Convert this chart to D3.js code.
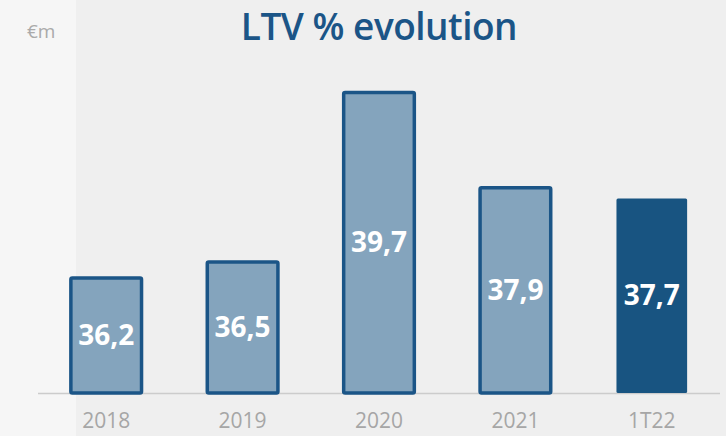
<!DOCTYPE html>
<html>
<head>
<meta charset="utf-8">
<script src="https://cdn.jsdelivr.net/npm/d3@7"></script>
<style>
  body { margin: 0; background: #efefef; }
  svg { display: block; }
</style>
</head>
<body>
<div id="chart_container"></div>
<script>
// chart data
const categories = ["2018", "2019", "2020", "2021", "1T22"];
const ltvValues = [36.2, 36.5, 39.7, 37.9, 37.7];
const valueLabels = ["36,2", "36,5", "39,7", "37,9", "37,7"];
const highlighted = ["1T22"];

const WIDTH = 726;
const HEIGHT = 436;
const BASELINE = 393;

const svg = d3
  .select("#chart_container")
  .append("svg")
  .attr("width", WIDTH)
  .attr("height", HEIGHT);

// background: lighter strip on the left
svg.append("rect").attr("width", WIDTH).attr("height", HEIGHT).attr("fill", "#efefef");
svg.append("rect").attr("width", 76).attr("height", HEIGHT).attr("fill", "#f6f6f6");

const x = d3
  .scaleBand()
  .domain(categories)
  .range([38, 720])
  .paddingInner(0.46)
  .paddingOuter(0.23);

const y = d3.scaleLinear().domain([34, 40]).range([BASELINE, 75]);

// title
svg
  .append("text")
  .attr("x", 379)
  .attr("y", 40)
  .attr("text-anchor", "middle")
  .style("font-family", "'Open Sans', sans-serif")
  .style("font-size", "37px")
  .style("font-weight", 600)
  .style("letter-spacing", "-0.5px")
  .style("fill", "#1b5587")
  .text("LTV % evolution");

svg
  .append("text")
  .attr("x", 27)
  .attr("y", 38)
  .style("font-family", "'Open Sans', sans-serif")
  .style("font-size", "19px")
  .style("fill", "#aaaaaa")
  .text("€m");

// baseline
svg
  .append("line")
  .attr("x1", 38)
  .attr("x2", 720)
  .attr("y1", BASELINE + 0.5)
  .attr("y2", BASELINE + 0.5)
  .attr("stroke", "#cccccc")
  .attr("stroke-width", 1.5);

const data = categories.map((c, i) => ({ cat: c, value: ltvValues[i], label: valueLabels[i] }));

// bars
svg
  .selectAll(".bar")
  .data(data)
  .enter()
  .append("rect")
  .attr("class", "bar")
  .attr("x", (d) => x(d.cat) + 1.5)
  .attr("y", (d) => y(d.value) + 1.5)
  .attr("width", x.bandwidth() - 3)
  .attr("height", (d) => BASELINE - y(d.value) - 1.5)
  .attr("rx", 1.5)
  .attr("fill", (d) => (highlighted.includes(d.cat) ? "#185481" : "#84a4bd"))
  .attr("stroke", (d) => (highlighted.includes(d.cat) ? "none" : "#1b5587"))
  .attr("stroke-width", 3.5);

// value labels inside bars
svg
  .selectAll(".label")
  .data(data)
  .enter()
  .append("text")
  .attr("class", "label")
  .attr("x", (d) => x(d.cat) + x.bandwidth() / 2)
  .attr("y", (d) => (y(d.value) + BASELINE) / 2)
  .attr("dy", "0.36em")
  .attr("text-anchor", "middle")
  .style("font-family", "'Open Sans', sans-serif")
  .style("font-size", "28px")
  .style("font-weight", 700)
  .style("fill", "#ffffff")
  .text((d) => d.label);

// x axis labels
const xAxis = svg
  .append("g")
  .attr("transform", `translate(0, ${BASELINE})`)
  .call(d3.axisBottom(x).tickSize(0).tickPadding(20));
xAxis.select(".domain").remove();
xAxis
  .selectAll("text")
  .style("font-family", "'Open Sans', sans-serif")
  .style("font-size", "21px")
  .style("fill", "#a6a6a6");
</script>
</body>
</html>
